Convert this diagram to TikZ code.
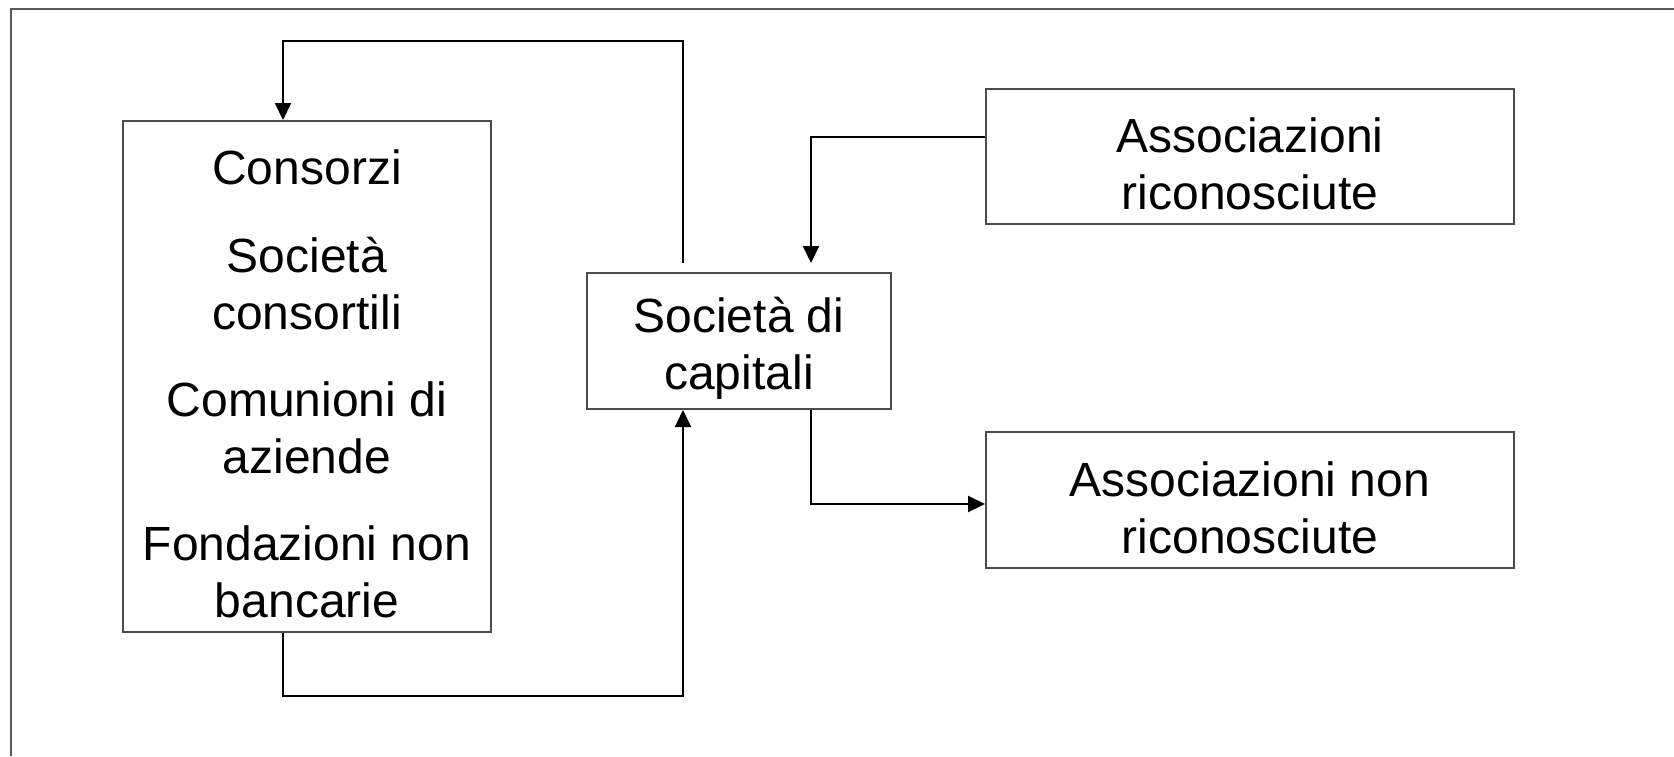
\documentclass[tikz,border=0pt]{standalone}
\usepackage{fontspec}
\setmainfont{Liberation Sans}
\usepackage{tikz}
\usetikzlibrary{positioning, arrows.meta}
\tikzset {
    x=0.5pt, y=-0.5pt,
    >={Triangle[length=8.5pt, width=8pt]},
    box/.style={draw=black!70, line width=1pt, align=center, inner sep=0pt,
        font=\fontsize{24}{28.3}\selectfont},
    link/.style={->, line width=1pt},
    frame/.style={draw=black!65, line width=1.2pt}
}

\begin{document}
\begin{tikzpicture}
                    \useasboundingbox (0,0) rectangle (1674,756);
                    \draw[frame] (11,756) -- (11,9) -- (1674,9);

                    \node[box, minimum width=184pt, minimum height=255.5pt] (cons) at (307,376.5)
                        {\rule{0pt}{25pt}Consorzi\\[15.5pt] Società\\ consortili\\[15.5pt] Comunioni di\\ aziende\\[15.5pt] Fondazioni non\\ bancarie};
                    \node[box, minimum width=152pt, minimum height=68pt] (soc) at (739,341) {\rule{0pt}{25pt}Società di\\ capitali};
                    \node[box, minimum width=264pt, minimum height=67.5pt] (ric) at (1250,156.5) {\rule{0pt}{25pt}Associazioni\\ riconosciute};
                    \node[box, minimum width=264pt, minimum height=68pt] (nonric) at (1250,500) {\rule{0pt}{25pt}Associazioni non\\ riconosciute};

                    \coordinate (upper) at (480,41);
                    \coordinate (lower) at (480,696);

                    \draw[link] ([xshift=-28pt, yshift=4.5pt]soc.north) |- (upper) -| ([xshift=-12pt]cons.north);
                    \draw[link] ([xshift=-12pt]cons.south) |- (lower) -| ([xshift=-28pt]soc.south);
                    \draw[link] ([yshift=9.75pt]ric.west) -| ([xshift=36pt, yshift=4.5pt]soc.north);
                    \draw[link] ([xshift=36pt]soc.south) |- ([yshift=-2pt]nonric.west);
\end{tikzpicture}
\end{document}
